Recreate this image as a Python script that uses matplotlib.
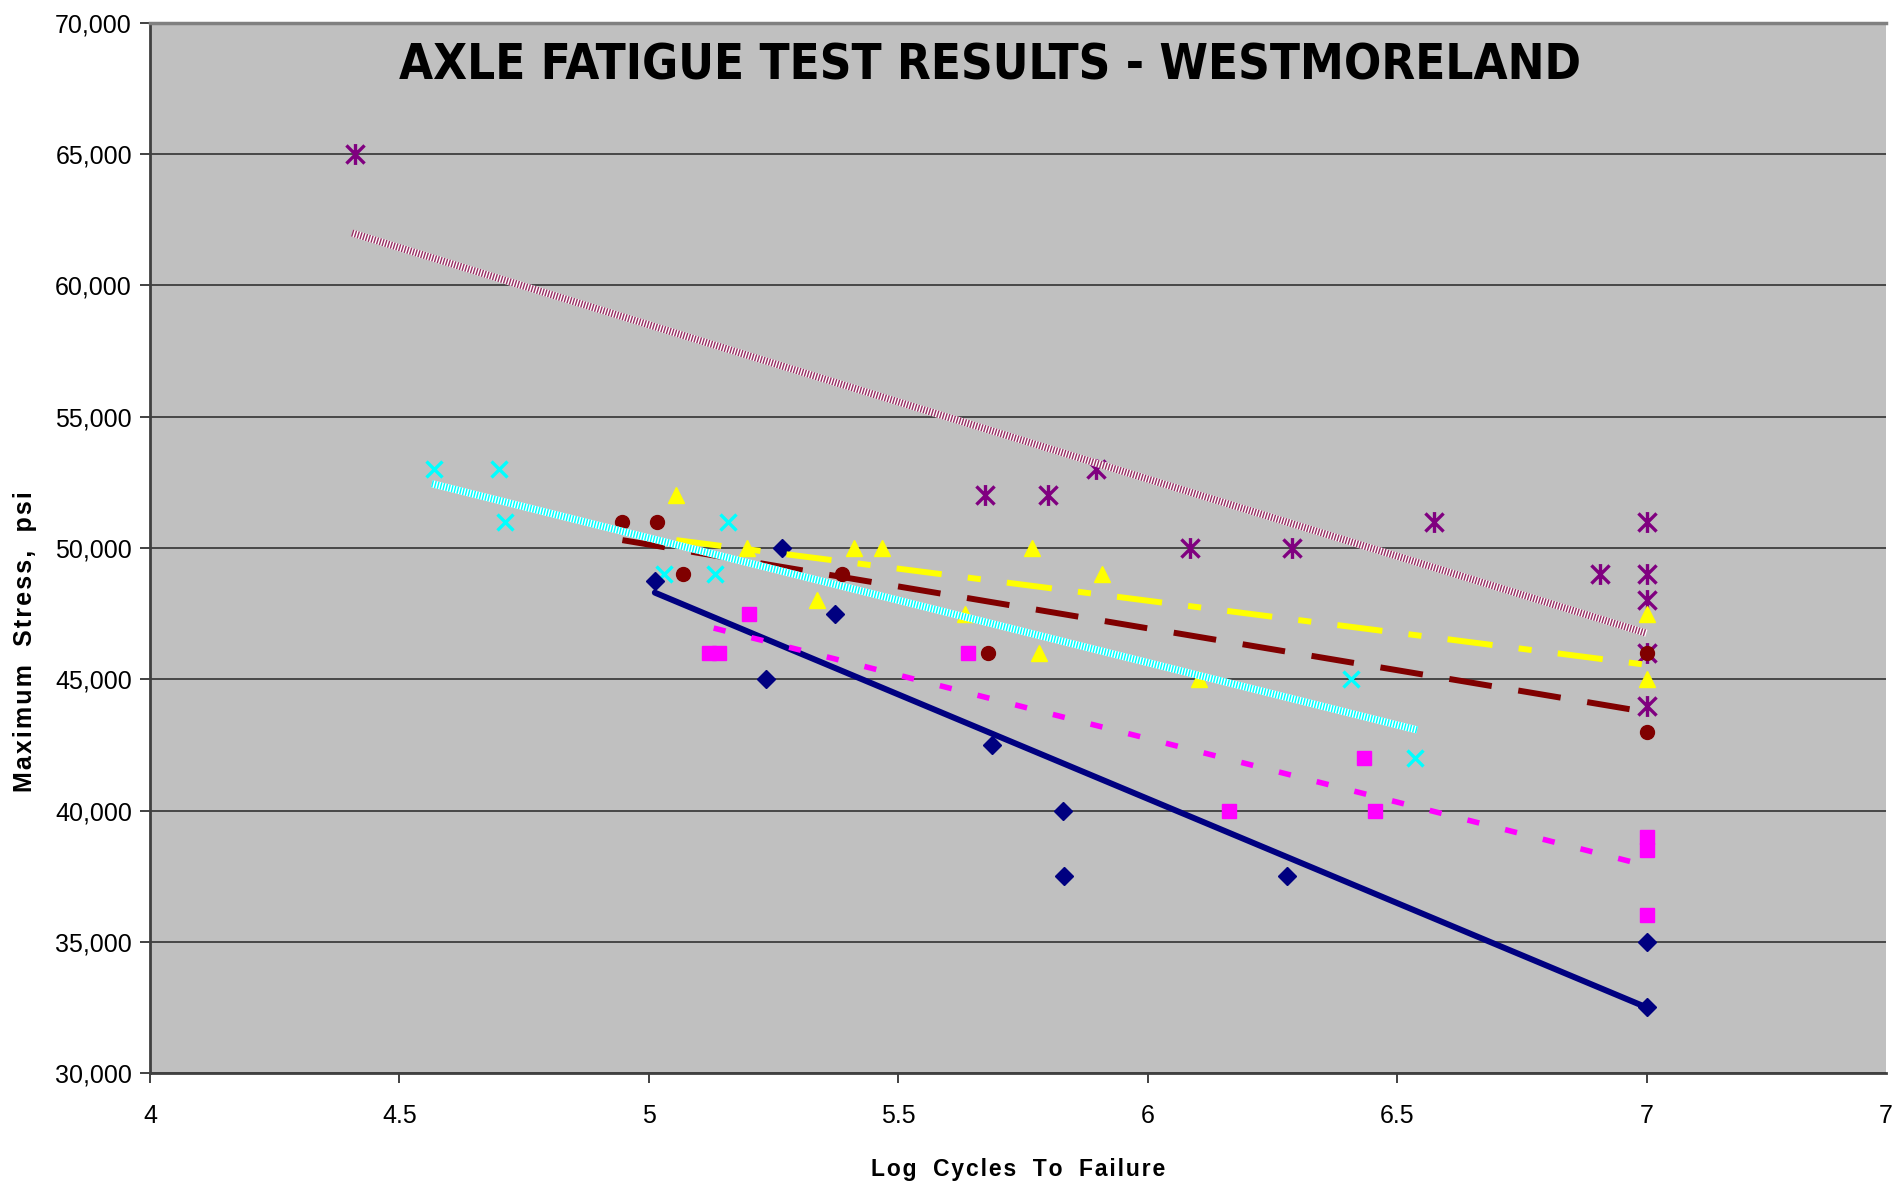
import numpy as np
import matplotlib.pyplot as plt
from matplotlib.path import Path

# -- data (log cycles, max stress psi)
navy_x = [5.012, 5.267, 5.235, 5.374, 5.687, 5.830, 5.833, 6.279, 7.0, 7.0]
navy_y = [48750, 50000, 45000, 47500, 42500, 40000, 37500, 37500, 35000, 32500]

mag_x = [5.12, 5.14, 5.200, 5.640, 6.163, 6.434, 6.456, 7.0, 7.0, 7.0]
mag_y = [46000, 46000, 47500, 46000, 40000, 42000, 40000, 39000, 38500, 36000]

yel_x = [5.054, 5.196, 5.338, 5.411, 5.468, 5.634, 5.769, 5.782, 5.909, 6.102, 7.0, 7.0]
yel_y = [52000, 50000, 48000, 50000, 50000, 47500, 50000, 46000, 49000, 45000, 47500, 45000]

mar_x = [4.947, 5.016, 5.069, 5.388, 5.680, 7.0, 7.0]
mar_y = [51000, 51000, 49000, 49000, 46000, 46000, 43000]

cyan_x = [4.569, 4.700, 4.712, 5.031, 5.133, 5.158, 6.407, 6.536]
cyan_y = [53000, 53000, 51000, 49000, 49000, 51000, 45000, 42000]

pur_x = [4.410, 5.674, 5.800, 5.896, 6.084, 6.289, 6.573, 6.907, 7.0, 7.0, 7.0, 7.0, 7.0]
pur_y = [65000, 52000, 52000, 53000, 50000, 50000, 51000, 49000, 51000, 49000, 48000, 46000, 44000]

# trendline end points (x0, x1), (y0, y1)
navy_tr = ([5.012, 7.0], [48300, 32500])
mag_tr = ([5.13, 7.0], [46950, 37900])
yel_tr = ([5.055, 7.0], [50300, 45550])
mar_tr = ([4.947, 7.0], [50300, 43750])
cyan_tr = ([4.565, 6.54], [52450, 43070])
pur_tr = ([4.405, 7.0], [62000, 46750])

x_ticks = [4, 4.5, 5, 5.5, 6, 6.5, 7, 7.48]
x_ticklabels = ['4', '4.5', '5', '5.5', '6', '6.5', '7', '7']
y_ticks = np.arange(30000, 70001, 5000)

lab_font = ['Liberation Sans', 'DejaVu Sans']


def spaced(s):
    # excel-style letter spacing, using hair spaces
    return '\u200a'.join(s).replace(' ', '  ')


fig = plt.figure(figsize=(18.98, 11.89), dpi=100)
ax = fig.add_axes([150/1898, 1 - 1073/1189, (1886 - 150)/1898, (1073 - 23)/1189])
ax.set_facecolor('#C0C0C0')

# asterisk marker: x plus vertical bar
star = Path([(-1, -1), (1, 1), (-1, 1), (1, -1), (0, -1.15), (0, 1.15)],
            [Path.MOVETO, Path.LINETO, Path.MOVETO, Path.LINETO, Path.MOVETO, Path.LINETO])

ax.plot(pur_x, pur_y, ls='none', marker=star, ms=15, mew=2.4, color='#800080', zorder=3)
ax.plot(cyan_x, cyan_y, ls='none', marker='x', ms=12, mew=2.4, color='#00FFFF', zorder=3)
ax.plot(navy_x, navy_y, ls='none', marker='D', ms=9, color='#000080', zorder=3)
ax.plot(mag_x, mag_y, ls='none', marker='s', ms=9.5, color='#FF00FF', zorder=3)
ax.plot(yel_x, yel_y, ls='none', marker='^', ms=12, color='#FFFF00', zorder=3)
ax.plot(mar_x, mar_y, ls='none', marker='o', ms=10, color='#800000', zorder=3)

# trendlines drawn on top of the markers
ax.plot(*navy_tr, color='#000080', lw=4.3, solid_capstyle='round', zorder=4)
ax.plot(*mag_tr, color='#FF00FF', lw=4.0, dashes=(2.2, 4.8), zorder=4)
ax.plot(*yel_tr, color='#FFFF00', lw=4.3, dashes=(7.6, 4.4, 2.2, 4.4), zorder=4)
ax.plot(*mar_tr, color='#800000', lw=4.3, dashes=(7.2, 4.5), zorder=4)
# dotted "patterned" bands
ax.plot(*cyan_tr, color='white', lw=5.2, solid_capstyle='butt', zorder=5)
ax.plot(*cyan_tr, color='#00FFFF', lw=5.2, dashes=(0.2, 0.2), zorder=5)
ax.plot(*pur_tr, color='white', lw=5.2, solid_capstyle='butt', zorder=5)
ax.plot(*pur_tr, color='#993366', lw=5.2, dashes=(0.2, 0.2), zorder=5)

ax.set_xlim(4, 7.48)
ax.set_ylim(30000, 70000)
ax.set_xticks(x_ticks)
ax.set_xticklabels(x_ticklabels)
ax.set_yticks(y_ticks)
ax.set_yticklabels([f'{v:,}' for v in y_ticks])
ax.yaxis.grid(True, color='#333333', lw=1.2)
ax.set_axisbelow(True)

for lab in ax.get_xticklabels() + ax.get_yticklabels():
    lab.set_family(lab_font)
    lab.set_fontsize(18)
ax.tick_params(axis='both', direction='out', length=7, width=1.3, color='#333333')
ax.tick_params(axis='x', pad=15)
ax.tick_params(axis='y', pad=6)
ax.xaxis.get_major_ticks()[-1].tick1line.set_visible(False)

ax.spines['right'].set_visible(False)
ax.spines['top'].set_color('#808080')
ax.spines['top'].set_linewidth(2.5)
ax.spines['left'].set_color('#404040')
ax.spines['left'].set_linewidth(2)
ax.spines['bottom'].set_color('#404040')
ax.spines['bottom'].set_linewidth(2)

ax.set_xlabel(spaced('Log Cycles To Failure'), family=lab_font,
              fontweight='bold', fontsize=16.5, labelpad=22)
ax.set_ylabel(spaced('Maximum Stress, psi'), family=lab_font,
              fontweight='bold', fontsize=18)
ax.yaxis.set_label_coords(-0.065, 0.411)

fig.text(989.6/1898, 1 - 66/1189, 'AXLE FATIGUE TEST RESULTS - WESTMORELAND',
         ha='center', va='center', fontsize=35.3, fontweight='bold',
         family='DejaVu Sans', fontstretch='condensed')

fig.savefig('out.png', dpi=100)
